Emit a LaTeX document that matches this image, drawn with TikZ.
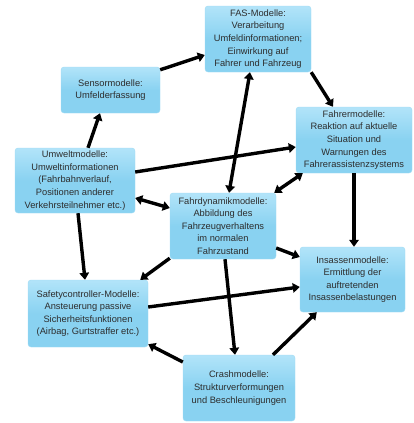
\documentclass[tikz,border=0pt]{standalone}
\usepackage{fontspec}
\setmainfont{Liberation Sans}
\usetikzlibrary{arrows.meta}
\definecolor{boxblue}{RGB}{137,210,241}
\definecolor{boxtop}{RGB}{178,228,249}
\definecolor{boxline}{RGB}{160,218,244}
\definecolor{boxtext}{RGB}{45,45,45}
\tikzset{
    modell/.style={rectangle,rounded corners=3pt,draw=boxline,top color=boxtop,bottom color=boxblue,
        middle color=boxblue,align=center,text=boxtext,inner sep=1pt,
        font=\fontsize{9.3}{12.6}\selectfont},
    pfeil/.style={line width=3.4pt,-{Triangle[length=7pt,width=9.5pt]}},
    doppel/.style={line width=3.4pt,{Triangle[length=7pt,width=9.5pt]}-{Triangle[length=7pt,width=9.5pt]}}
}
\begin{document}
\begin{tikzpicture}[x=1pt,y=-1pt]
        \useasboundingbox (0,0) rectangle (414,423);

        \node[modell,minimum width=106pt,minimum height=66pt] (fas) at (258,39) {FAS-Modelle:\\Verarbeitung\\Umfeldinformationen;\\Einwirkung auf\\Fahrer und Fahrzeug};
        \node[modell,minimum width=99pt,minimum height=46pt] (sensor) at (110.5,90) {Sensormodelle:\\Umfelderfassung};
        \node[modell,minimum width=116pt,minimum height=66pt] (fahrer) at (354,140) {Fahrermodelle:\\Reaktion auf aktuelle\\Situation und\\Warnungen des\\Fahrerassistenzsystems};
        \node[modell,minimum width=120pt,minimum height=65pt] (umwelt) at (75,180.5) {Umweltmodelle:\\Umweltinformationen\\(Fahrbahnverlauf,\\Positionen anderer\\Verkehrsteilnehmer etc.)};
        \node[modell,minimum width=106pt,minimum height=66pt] (fahrdyn) at (223,226) {Fahrdynamikmodelle:\\Abbildung des\\Fahrzeugverhaltens\\im normalen\\Fahrzustand};
        \node[modell,minimum width=105pt,minimum height=65pt] (insassen) at (352.5,279.5) {Insassenmodelle:\\Ermittlung der\\auftretenden\\Insassenbelastungen};
        \node[modell,minimum width=120pt,minimum height=67pt] (safety) at (88,313.5) {Safetycontroller-Modelle:\\Ansteuerung passive\\Sicherheitsfunktionen\\(Airbag, Gurtstraffer etc.)};
        \node[modell,minimum width=112pt,minimum height=66pt] (crash) at (239,388) {Crashmodelle:\\Strukturverformungen\\und Beschleunigungen};

        % Verbindungen
        \draw[pfeil] ([yshift=-3pt]sensor.north east) -- ([yshift=-16pt]fas.west);
        \draw[pfeil] (fas.south east) -- ([xshift=-21pt]fahrer.north);
        \draw[pfeil] ([xshift=13pt]umwelt.north) -- ([xshift=-10.5pt]sensor.south);
        \draw[pfeil] ([yshift=8.5pt]umwelt.east) -- ([yshift=-7pt]fahrer.west);
        \draw[doppel] ([xshift=-8pt]fas.south) -- ([xshift=6pt]fahrdyn.north);
        \draw[doppel] ([xshift=-2pt]fahrdyn.north east) -- ([xshift=7pt]fahrer.south west);
        \draw[doppel] ([yshift=-17.5pt]umwelt.east) -- ([yshift=18pt]fahrdyn.west);
        \draw[pfeil] (fahrer.south) -- (fahrer.south |- insassen.north);
        \draw[pfeil] ([xshift=3pt]umwelt.south) -- ([xshift=-3pt]safety.north);
        \draw[pfeil] ([yshift=1pt]fahrdyn.south west) -- ([xshift=-8pt]safety.north east);
        \draw[pfeil] ([yshift=-22pt]fahrdyn.east) -- ([yshift=22.5pt]insassen.west);
        \draw[pfeil] ([xshift=2pt]fahrdyn.south) -- ([xshift=-4pt]crash.north);
        \draw[pfeil] ([yshift=6.5pt]safety.east) -- ([yshift=-7.5pt]insassen.west);
        \draw[pfeil] ([yshift=26pt]crash.west) -- ([yshift=3pt]safety.south east);
        \draw[pfeil] ([xshift=34pt]crash.north) -- ([xshift=17pt]insassen.south west);

    \end{tikzpicture}
\end{document}
